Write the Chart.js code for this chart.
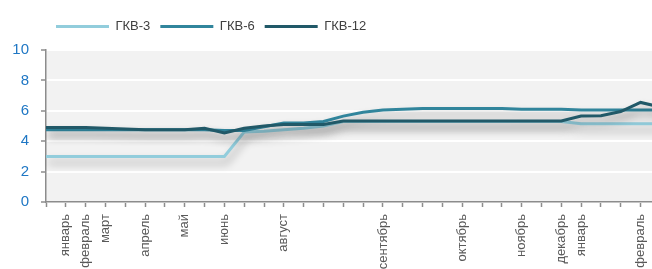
<!DOCTYPE html>
<html>
<head>
<meta charset="utf-8">
<script src="https://cdn.jsdelivr.net/npm/chart.js@4"></script>
<style>
  html, body { margin: 0; padding: 0; background: #fff; overflow: hidden; }
  #wrap { position: relative; width: 683px; height: 290px; }
</style>
</head>
<body>
<div id="wrap"><canvas id="c"></canvas></div>
<script>
// месяцы (подписи только на части недель)
const labels = [
  '', 'январь', 'февраль', 'март', '', 'апрель', '', 'май', '', 'июнь',
  '', '', 'август', '', '', '', '', 'сентябрь', '', '',
  '', 'октябрь', '', '', 'ноябрь', '', 'декабрь', 'январь', '', '',
  'февраль', ''
];

const gkv3 = [
  3, 3, 3, 3, 3, 3, 3, 3, 3, 3,
  4.6, 4.65, 4.75, 4.85, 5.0, 5.3, 5.3, 5.3, 5.3, 5.3,
  5.3, 5.3, 5.3, 5.3, 5.3, 5.3, 5.3, 5.15, 5.15, 5.15,
  5.15, 5.15
];
const gkv6 = [
  4.75, 4.75, 4.75, 4.75, 4.75, 4.75, 4.75, 4.75, 4.75, 4.7,
  4.7, 4.95, 5.2, 5.2, 5.3, 5.65, 5.9, 6.05, 6.1, 6.15,
  6.15, 6.15, 6.15, 6.15, 6.1, 6.1, 6.1, 6.05, 6.05, 6.05,
  6.05, 6.05
];
const gkv12 = [
  4.9, 4.9, 4.9, 4.85, 4.8, 4.75, 4.75, 4.75, 4.85, 4.55,
  4.85, 5.0, 5.1, 5.1, 5.1, 5.33, 5.33, 5.33, 5.33, 5.33,
  5.33, 5.33, 5.33, 5.33, 5.33, 5.33, 5.33, 5.65, 5.68, 5.95,
  6.55, 6.25
];

const yTicks = [0, 2, 4, 6, 8, 10];

const FONT = "'Liberation Sans', Arial, sans-serif";

const plotBg = {
    id: 'plotBg',
    beforeDraw(chart) {
        const { ctx, chartArea: a } = chart;
        ctx.save();
        ctx.fillStyle = '#f2f2f2';
        ctx.fillRect(a.left, a.top, chart.width - a.left, a.bottom - a.top);
        ctx.restore();
    }
};

// extra room under the legend
const legendGap = {
    id: 'legendGap',
    beforeLayout(chart) {
        const lg = chart.legend;
        if (!lg || lg._gapPatched) return;
        const fit = lg.fit;
        lg.fit = function () {
            fit.call(this);
            this.height += 7;
        };
        lg._gapPatched = true;
    }
};

const lineShadow = {
    id: 'lineShadow',
    beforeDatasetDraw(chart) {
        const ctx = chart.ctx;
        ctx.save();
        ctx.shadowColor = 'rgba(0,0,0,0.32)';
        ctx.shadowBlur = 8;
        ctx.shadowOffsetX = 2;
        ctx.shadowOffsetY = 6;
    },
    afterDatasetDraw(chart) {
        chart.ctx.restore();
    }
};

function series(label, data, color, order) {
    return {
        label, data, order,
        borderColor: color,
        backgroundColor: color,
        borderWidth: 3,
        pointRadius: 0,
        tension: 0,
        fill: false
    };
}

new Chart(document.getElementById('c'), {
    type: 'line',
    data: {
        labels: labels,
        datasets: [
            series('ГКВ-3', gkv3, '#92cddc', 3),
            series('ГКВ-6', gkv6, '#31859c', 2),
            series('ГКВ-12', gkv12, '#215968', 1)
        ]
    },
    options: {
        responsive: true,
        maintainAspectRatio: false,
        animation: false,
        layout: { padding: { top: 10, right: 7, left: 0, bottom: 0 } },
        plugins: {
            tooltip: { enabled: false },
            legend: {
                position: 'top',
                align: 'start',
                fullSize: false,
                labels: {
                    boxWidth: 53,
                    boxHeight: 0,
                    padding: 10,
                    color: '#404040',
                    font: { family: FONT, size: 13 },
                    sort: (a, b) => a.datasetIndex - b.datasetIndex
                }
            }
        },
        scales: {
            x: {
                offset: false,
                afterFit: s => { s.height = 88; },
                grid: {
                    drawOnChartArea: false,
                    drawTicks: true,
                    tickLength: 5,
                    tickColor: '#8c8c8c',
                    tickWidth: 1.5
                },
                border: { color: '#8c8c8c', width: 1.5 },
                ticks: {
                    autoSkip: false,
                    maxRotation: 90,
                    minRotation: 90,
                    padding: 7,
                    color: '#595959',
                    font: { family: FONT, size: 13 }
                }
            },
            y: {
                min: 0,
                max: 10,
                afterFit: s => { s.width = 46; },
                afterBuildTicks: s => { s.ticks = yTicks.map(v => ({ value: v })); },
                grid: {
                    color: '#ffffff',
                    lineWidth: 2,
                    tickLength: 5,
                    tickColor: '#8c8c8c',
                    tickWidth: 1.5
                },
                border: { color: '#8c8c8c', width: 1.5 },
                ticks: {
                    padding: 12,
                    color: '#1f77c4',
                    font: { family: FONT, size: 15 }
                }
            }
        }
    },
    plugins: [plotBg, legendGap, lineShadow]
});
</script>
</body>
</html>
